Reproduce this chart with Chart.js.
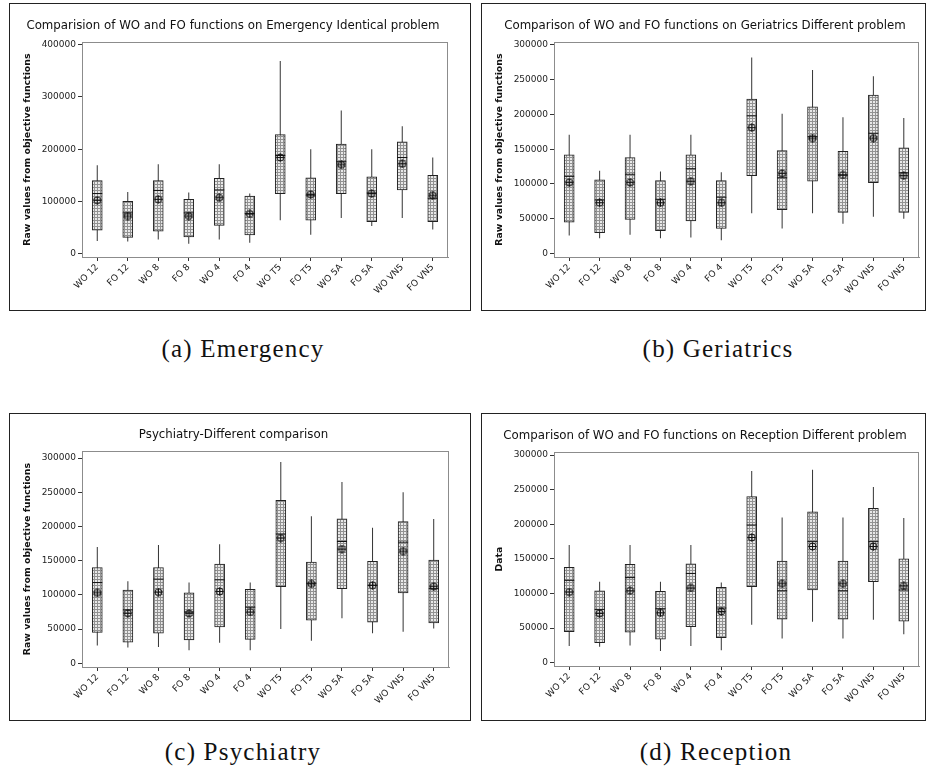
<!DOCTYPE html>
<html>
<head>
<meta charset="utf-8">
<script src="https://cdn.jsdelivr.net/npm/chart.js@4.4.1/dist/chart.umd.min.js"></script>
<style>
  body{margin:0;background:#fff;width:930px;height:774px;position:relative;overflow:hidden;}
  .panel{position:absolute;border:1px solid #222;background:#fff;}
  .panel canvas{display:block;}
  .cap{position:absolute;font-family:"Liberation Serif","Times New Roman",serif;font-size:25px;line-height:30px;
       letter-spacing:1.2px;transform:translateX(-50%);white-space:nowrap;color:#111;}
</style>
</head>
<body>
<div class="panel" style="left:9px;top:3px;width:460px;height:306px"><canvas id="chartA" width="460" height="306"></canvas></div>
<div class="panel" style="left:481px;top:3px;width:443px;height:306px"><canvas id="chartB" width="443" height="306"></canvas></div>
<div class="panel" style="left:9px;top:413px;width:460px;height:306px"><canvas id="chartC" width="460" height="306"></canvas></div>
<div class="panel" style="left:481px;top:413px;width:443px;height:306px"><canvas id="chartD" width="443" height="306"></canvas></div>

<div class="cap" style="left:243px;top:334px">(a) Emergency</div>
<div class="cap" style="left:718px;top:334px">(b) Geriatrics</div>
<div class="cap" style="left:243px;top:737px">(c) Psychiatry</div>
<div class="cap" style="left:716px;top:737px">(d) Reception</div>

<script>
// ===== 資料 =====
const categories = ['WO 12','FO 12','WO 8','FO 8','WO 4','FO 4','WO T5','FO T5','WO 5A','FO 5A','WO VN5','FO VN5'];

// (a) Emergency
const emergencyLow  = [24000,23000,27000,19000,27000,21000,64000,36000,68000,53000,68000,46000];
const emergencyQ1   = [45000,31000,43000,32000,54000,36000,115000,64000,115000,61000,122000,61000];
const emergencyMed  = [115000,78000,121000,78000,122000,77000,188000,112000,176000,116000,184000,106000];
const emergencyQ3   = [140000,100000,140000,104000,144000,110000,228000,145000,210000,147000,214000,150000];
const emergencyHigh = [169000,118000,171000,117000,171000,115000,369000,200000,274000,200000,244000,184000];
const emergencyMean = [102000,72000,104000,72000,107000,76000,184000,113000,170000,115000,172000,112000];
const emergencyTicks = [0,100000,200000,300000,400000];

// (b) Geriatrics
const geriatricsLow  = [26000,22000,27000,22000,23000,19000,58000,36000,58000,43000,53000,50000];
const geriatricsQ1   = [45000,30000,49000,33000,47000,36000,112000,63000,104000,59000,102000,59000];
const geriatricsMed  = [111000,77000,114000,78000,122000,81000,198000,109000,168000,113000,173000,116000];
const geriatricsQ3   = [142000,106000,138000,105000,142000,105000,222000,148000,211000,147000,228000,152000];
const geriatricsHigh = [171000,119000,171000,118000,171000,117000,282000,201000,264000,196000,255000,195000];
const geriatricsMean = [102000,73000,102000,73000,104000,73000,181000,115000,166000,113000,166000,112000];

// (c) Psychiatry
const psychiatryLow  = [26000,23000,24000,19000,30000,19000,50000,33000,66000,44000,46000,51000];
const psychiatryQ1   = [45000,31000,44000,34000,53000,35000,112000,63000,109000,60000,103000,59000];
const psychiatryMed  = [118000,78000,123000,75000,122000,82000,189000,117000,178000,114000,177000,109000];
const psychiatryQ3   = [140000,107000,140000,103000,145000,108000,238000,148000,211000,149000,207000,151000];
const psychiatryHigh = [170000,120000,173000,118000,174000,118000,294000,215000,265000,198000,250000,211000];
const psychiatryMean = [103000,73000,104000,73000,105000,75000,183000,116000,167000,114000,164000,112000];

// (d) Reception
const receptionLow  = [24000,23000,25000,17000,24000,18000,55000,35000,59000,35000,62000,41000];
const receptionQ1   = [45000,29000,44000,34000,52000,36000,110000,63000,105000,63000,117000,60000];
const receptionMed  = [119000,77000,123000,78000,129000,79000,199000,104000,175000,104000,175000,105000];
const receptionQ3   = [138000,104000,142000,103000,143000,109000,240000,147000,218000,147000,223000,150000];
const receptionHigh = [170000,117000,170000,117000,170000,116000,277000,210000,279000,210000,254000,209000];
const receptionMean = [102000,71000,104000,72000,108000,74000,181000,114000,168000,114000,168000,111000];

const step50kTicks = [0,50000,100000,150000,200000,250000,300000];

// ===== 樣式小工具 =====
function boxPattern(){
  const c = document.createElement('canvas'); c.width = 3; c.height = 3;
  const g = c.getContext('2d');
  g.fillStyle = '#e8e8e8'; g.fillRect(0,0,3,3);
  g.fillStyle = '#929292'; g.fillRect(0,0,3,1); g.fillRect(0,0,1,3);
  return g.createPattern(c,'repeat');
}
function meanIcon(){
  const c = document.createElement('canvas'); c.width = 9; c.height = 9;
  const g = c.getContext('2d');
  g.strokeStyle = '#111'; g.lineWidth = 1;
  g.beginPath(); g.arc(4.5,4.5,3.5,0,Math.PI*2); g.stroke();
  g.beginPath(); g.moveTo(4.5,0.5); g.lineTo(4.5,8.5); g.moveTo(0.5,4.5); g.lineTo(8.5,4.5); g.stroke();
  return c;
}
const pattern = boxPattern();
const meanMark = meanIcon();

// 資料區外框
const framePlugin = {
  id:'frame',
  beforeDatasetsDraw(chart){
    const {ctx, chartArea:a} = chart;
    ctx.save();
    ctx.strokeStyle = '#8c8c8c'; ctx.lineWidth = 1;
    ctx.strokeRect(Math.round(a.left)+0.5, Math.round(a.top)+0.5, Math.round(a.right-a.left)-1, Math.round(a.bottom-a.top));
    ctx.restore();
  }
};

function makePanel(id, cfg){
  const zip = (a,b) => a.map((v,i) => [v,b[i]]);
  new Chart(document.getElementById(id), {
    type:'bar',
    data:{
      labels:categories,
      datasets:[
        { label:'mean', type:'line', data:cfg.mean, showLine:false, pointStyle:meanMark, pointRadius:4, order:1 },
        { label:'median', type:'line', data:cfg.med, showLine:false, pointStyle:'line', pointRadius:5,
          borderColor:'#111', borderWidth:1, order:2 },
        { label:'box', data:zip(cfg.q1,cfg.q3), backgroundColor:pattern, borderColor:'#222', borderWidth:1,
          borderSkipped:false, barThickness:10, grouped:false, order:3 },
        { label:'whisker', data:zip(cfg.low,cfg.high), backgroundColor:'#333', barThickness:1, inflateAmount:0,
          grouped:false, order:4 }
      ]
    },
    options:{
      responsive:false,
      animation:false,
      layout:{ padding:{ left:8, right:cfg.padRight, top:0, bottom:0 } },
      plugins:{
        legend:{ display:false },
        tooltip:{ enabled:false },
        title:{ display:true, text:cfg.title, color:'#111',
                font:{ family:'"DejaVu Sans", sans-serif', size:11.8, weight:'normal' },
                padding:{ top:cfg.titleTop, bottom:9 } }
      },
      scales:{
        x:{
          afterFit(s){ s.height = 306 - cfg.areaBottom; },
          grid:{ display:true, drawOnChartArea:false, offset:false, tickLength:4, color:'#333' },
          border:{ display:true, color:'#8c8c8c' },
          ticks:{ autoSkip:false, minRotation:45, maxRotation:45, padding:1, color:'#222',
                  font:{ family:'"DejaVu Sans", sans-serif', size:9 } }
        },
        y:{
          min:cfg.min, max:cfg.max,
          afterFit(s){ s.width = 64; },
          afterBuildTicks(s){ s.ticks = cfg.ticks.map(v => ({ value:v })); },
          grid:{ display:true, drawOnChartArea:false, tickLength:4, color:'#333' },
          border:{ display:true, color:'#8c8c8c' },
          ticks:{ padding:2, color:'#222', callback:v => String(v),
                  font:{ family:'"DejaVu Sans", sans-serif', size:9 } },
          title:{ display:true, text:cfg.yTitle, color:'#111', padding:{ top:4, bottom:4 },
                  font:{ family:'"DejaVu Sans", sans-serif', size:9.4, weight:'bold' } }
        }
      }
    },
    plugins:[framePlugin]
  });
}

makePanel('chartA', {
  title:'Comparision of WO and FO functions on Emergency Identical problem',
  yTitle:'Raw values from objective functions',
  low:emergencyLow, q1:emergencyQ1, med:emergencyMed, q3:emergencyQ3, high:emergencyHigh, mean:emergencyMean,
  ticks:emergencyTicks, min:-6500, max:405000, padRight:22, titleTop:15, areaBottom:253
});
makePanel('chartB', {
  title:'Comparison of WO and FO functions on Geriatrics Different problem',
  yTitle:'Raw values from objective functions',
  low:geriatricsLow, q1:geriatricsQ1, med:geriatricsMed, q3:geriatricsQ3, high:geriatricsHigh, mean:geriatricsMean,
  ticks:step50kTicks, min:-5000, max:304000, padRight:5, titleTop:15, areaBottom:253
});
makePanel('chartC', {
  title:'Psychiatry-Different comparison',
  yTitle:'Raw values from objective functions',
  low:psychiatryLow, q1:psychiatryQ1, med:psychiatryMed, q3:psychiatryQ3, high:psychiatryHigh, mean:psychiatryMean,
  ticks:step50kTicks, min:-5400, max:310000, padRight:21, titleTop:14, areaBottom:253
});
makePanel('chartD', {
  title:'Comparison of WO and FO functions on Reception Different problem',
  yTitle:'Data',
  low:receptionLow, q1:receptionQ1, med:receptionMed, q3:receptionQ3, high:receptionHigh, mean:receptionMean,
  ticks:step50kTicks, min:-4800, max:304300, padRight:5, titleTop:15, areaBottom:252
});
</script>
</body>
</html>
